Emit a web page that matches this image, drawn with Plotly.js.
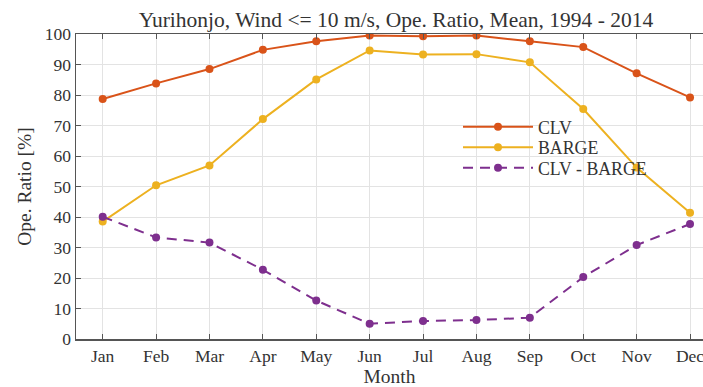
<!DOCTYPE html>
<html>
<head>
<meta charset="utf-8">
<script src="https://cdn.plot.ly/plotly-3.0.1.min.js"></script>
<style>
  html, body { margin: 0; padding: 0; background: #fff; }
  #chart { width: 703px; height: 387px; }
</style>
</head>
<body>
<div id="chart"></div>
<script>
const months = ['Jan', 'Feb', 'Mar', 'Apr', 'May', 'Jun', 'Jul', 'Aug', 'Sep', 'Oct', 'Nov', 'Dec'];
const monthIndex = [1, 2, 3, 4, 5, 6, 7, 8, 9, 10, 11, 12];
const clv = [78.7, 83.8, 88.5, 94.8, 97.6, 99.5, 99.3, 99.5, 97.6, 95.7, 87.1, 79.2];
const barge = [38.5, 50.4, 56.9, 72.1, 85.1, 94.6, 93.3, 93.4, 90.7, 75.4, 56.2, 41.4];
const diff = [40.1, 33.3, 31.6, 22.7, 12.6, 5.0, 5.9, 6.2, 7.0, 20.3, 30.8, 37.7];
const yTicks = [0, 10, 20, 30, 40, 50, 60, 70, 80, 90, 100];

const FONT = 'Liberation Serif, Times New Roman, serif';
const TXT = '#333333';

const traces = [
  {
    x: monthIndex, y: clv, name: 'CLV', type: 'scatter', mode: 'lines+markers',
    line: { color: '#D95319', width: 2 },
    marker: { color: '#D95319', size: 8 },
    legend: 'legend'
  },
  {
    x: monthIndex, y: barge, name: 'BARGE', type: 'scatter', mode: 'lines+markers',
    line: { color: '#EDB120', width: 2 },
    marker: { color: '#EDB120', size: 8 },
    legend: 'legend2'
  },
  {
    x: monthIndex, y: diff, name: 'CLV - BARGE', type: 'scatter', mode: 'lines+markers',
    line: { color: '#7E2F8E', width: 2, dash: '10px,7px' },
    marker: { color: '#7E2F8E', size: 8 },
    legend: 'legend3'
  }
];

function legendAt(rowY) {
  return {
    x: (458 - 76) / 627, xanchor: 'left',
    y: 1 - (rowY - 33.5) / 306, yanchor: 'middle',
    bgcolor: 'rgba(0,0,0,0)', borderwidth: 0,
    itemwidth: 70,
    font: { family: FONT, size: 17.8, color: TXT }
  };
}

const layout = {
  width: 703, height: 387,
  margin: { l: 76, r: 0, t: 33.5, b: 47.5 },
  paper_bgcolor: '#ffffff', plot_bgcolor: '#ffffff',
  font: { family: FONT, color: TXT, size: 17 },
  title: {
    text: 'Yurihonjo, Wind &lt;= 10 m/s, Ope. Ratio, Mean, 1994 - 2014',
    font: { family: FONT, size: 21.5, color: TXT },
    x: 396 / 703, xanchor: 'center', xref: 'container',
    y: 1 - 19.5 / 387, yanchor: 'middle', yref: 'container'
  },
  xaxis: {
    range: [0.5, 12.243],
    tickvals: monthIndex, ticktext: months,
    ticks: 'inside', ticklen: 5, tickcolor: '#555555', tickwidth: 1,
    ticklabeloverflow: 'allow',
    showline: true, linecolor: '#555555', linewidth: 1.5, mirror: 'ticks',
    showgrid: true, gridcolor: '#e3e3e3', gridwidth: 1,
    zeroline: false,
    tickfont: { family: FONT, size: 17.5, color: TXT },
    title: { text: 'Month', font: { family: FONT, size: 19.5, color: TXT }, standoff: 10 }
  },
  yaxis: {
    range: [0, 100],
    tickvals: yTicks,
    ticks: 'inside', ticklen: 5, tickcolor: '#555555', tickwidth: 1,
    showline: true, linecolor: '#555555', linewidth: 1.5, mirror: false,
    showgrid: true, gridcolor: '#e3e3e3', gridwidth: 1,
    zeroline: false,
    tickfont: { family: FONT, size: 17.5, color: TXT },
    title: { text: 'Ope. Ratio [%]', font: { family: FONT, size: 19.5, color: TXT }, standoff: 8 }
  },
  showlegend: true,
  legend: legendAt(127),
  legend2: legendAt(147.5),
  legend3: legendAt(168)
};

Plotly.newPlot('chart', traces, layout, { displayModeBar: false, staticPlot: true });
</script>
</body>
</html>
